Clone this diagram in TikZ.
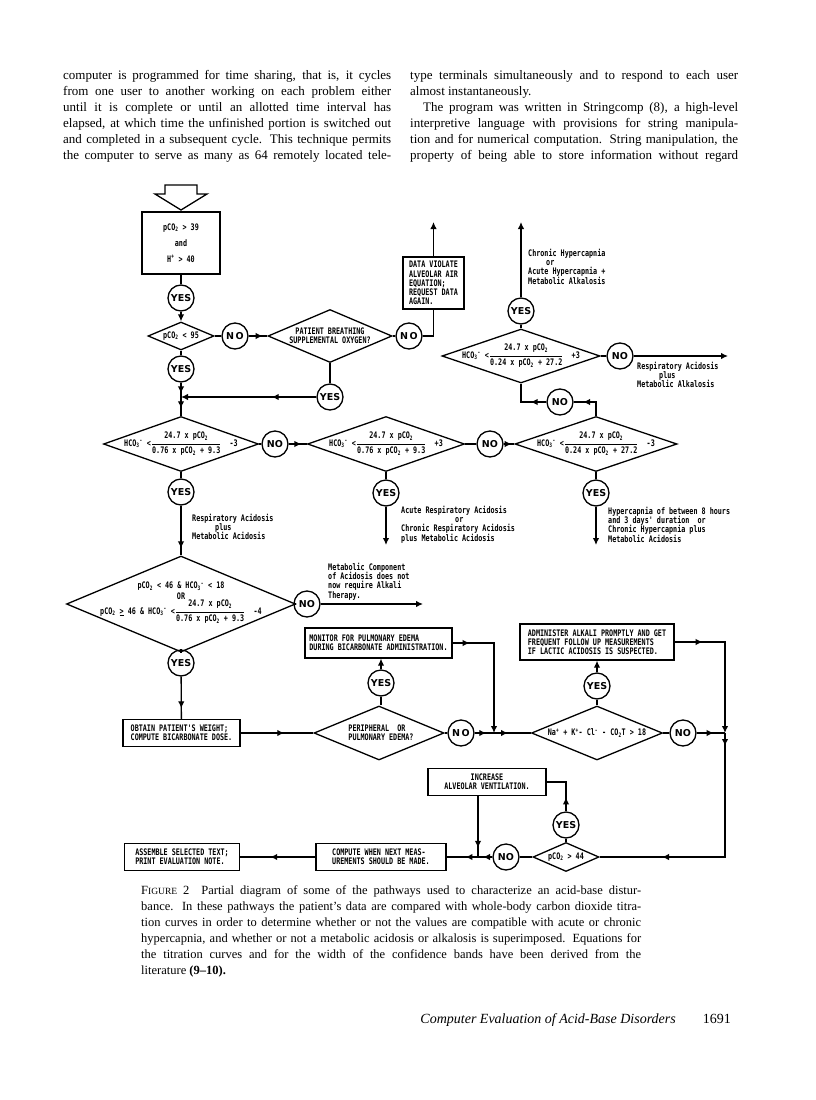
\documentclass[tikz,border=0pt]{standalone}
\usepackage{fontspec}
\usepackage{amsmath}
\setmainfont{Liberation Serif}
\newfontfamily\fcf[FakeStretch=0.75]{DejaVu Sans Mono}
\newfontfamily\ynf{DejaVu Sans}
\usetikzlibrary{shapes.geometric,arrows.meta,decorations.markings}
\newcommand\fcs{\fcf\bfseries\fontsize{9}{9.2}\selectfont}
\newcommand\yn{\ynf\bfseries\fontsize{9.5}{9.5}\selectfont}
\newcommand\hco{HCO\textsubscript{3}\textsuperscript{-}}
\newcommand\pco{pCO\textsubscript{2}}
\newcommand\fr[2]{$\genfrac{}{}{0.9pt}{0}{\mbox{#1}}{\mbox{#2}}$}
\newcommand\bodyfont{\fontsize{13}{16}\selectfont}
\newcommand\capfont{\fontsize{12.5}{16}\selectfont}
\newcommand\jl[2]{\makebox[#1][s]{#2}}
\begin{document}
\begin{tikzpicture}[x=1pt,y=-1pt,
  ln/.style={line width=1.3pt},
  bx/.style={draw, rectangle, line width=1.3pt, inner sep=0pt, font=\fcs},
  cr/.style={draw, circle, line width=1.3pt, minimum size=26pt, inner sep=0pt, font=\yn},
  dm/.style={draw, diamond, line width=1.3pt, inner sep=0pt},
  dt/.style={font=\fcs, inner sep=0pt},
  lbl/.style={font=\fcs, align=left, inner sep=0pt, anchor=north west},
  arr/.style={-{Latex[length=7pt,width=6.5pt]}},
  ma/.style={postaction={decorate, decoration={markings, mark=at position #1 with {\arrow{Latex[length=7pt,width=6.5pt]}}}}},
  bt/.style={anchor=base west, inner sep=0pt, font=\bodyfont},
  ct/.style={anchor=base west, inner sep=0pt, font=\capfont}
]
\fill[white] (0,0) rectangle (816,1100);
\useasboundingbox (0,0) rectangle (816,1100);

% ---------- body text ----------
\node[bt] (t1) at (63,79) {\jl{328pt}{computer is programmed for time sharing, that is, it cycles}};
\node[bt] (t2) at (63,95) {\jl{328pt}{from one user to another working on each problem either}};
\node[bt] (t3) at (63,111) {\jl{328pt}{until it is complete or until an allotted time interval has}};
\node[bt] (t4) at (63,127) {\jl{328pt}{elapsed, at which time the unfinished portion is switched out}};
\node[bt] (t5) at (63,143) {\jl{328pt}{and completed in a subsequent cycle. This technique permits}};
\node[bt] (t6) at (63,159) {\jl{328pt}{the computer to serve as many as 64 remotely located tele-}};
\node[bt] (r1) at (410,79) {\jl{328pt}{type terminals simultaneously and to respond to each user}};
\node[bt] (r2) at (410,95) {almost instantaneously.};
\node[bt] (r3) at (410,111) {\jl{328pt}{\hspace*{13pt}The program was written in Stringcomp (8), a high-level}};
\node[bt] (r4) at (410,127) {\jl{328pt}{interpretive language with provisions for string manipula-}};
\node[bt] (r5) at (410,143) {\jl{328pt}{tion and for numerical computation. String manipulation, the}};
\node[bt] (r6) at (410,159) {\jl{328pt}{property of being able to store information without regard}};

% ---------- caption ----------
\node[ct] (c1) at (141,894) {\jl{500pt}{F{\fontsize{9.5}{16}\selectfont IGURE} 2\ \ Partial diagram of some of the pathways used to characterize an acid-base distur-}};
\node[ct] (c2) at (141,910) {\jl{500pt}{bance. In these pathways the patient's data are compared with whole-body carbon dioxide titra-}};
\node[ct] (c3) at (141,926) {\jl{500pt}{tion curves in order to determine whether or not the values are compatible with acute or chronic}};
\node[ct] (c4) at (141,942) {\jl{500pt}{hypercapnia, and whether or not a metabolic acidosis or alkalosis is superimposed. Equations for}};
\node[ct] (c5) at (141,958) {\jl{500pt}{the titration curves and for the width of the confidence bands have been derived from the}};
\node[ct] (c6) at (141,974) {literature \textbf{(9--10).}};
\node[anchor=base east, inner sep=0pt, font=\fontsize{14}{16}\selectfont\itshape] (f1) at (676,1023) {Computer Evaluation of Acid-Base Disorders};
\node[anchor=base east, inner sep=0pt, font=\fontsize{14}{16}\selectfont] (f2) at (731,1023) {1691};

% ---------- hollow entry arrow ----------
\draw[ln, line join=miter] (165,185) -- (197,185) -- (197,194) -- (207,194) -- (181,210) -- (155,194) -- (165,194) -- cycle;

% ---------- nodes ----------
\node[bx, minimum width=78pt, minimum height=62pt, align=center] (box1) at (181,243) {\pco\ > 39\\[7pt]and\\[7pt]H\textsuperscript{+} > 40};
\node[cr] (yes1) at (181,298) {YES};
\node[dm, minimum width=66pt, minimum height=28pt] (d2) at (181,336) {};
\node[dt] (d2t) at (d2) {\pco\ < 95};
\node[cr] (no1) at (235,336) {N\,O};
\node[dm, minimum width=124pt, minimum height=53pt] (d3) at (330,336) {};
\node[dt, align=center] (d3t) at (d3) {PATIENT BREATHING\\SUPPLEMENTAL OXYGEN?};
\node[cr] (no2) at (409,336) {N\,O};
\node[bx, minimum width=61pt, minimum height=52pt, align=left] (data) at (433.5,283) {DATA VIOLATE\\ALVEOLAR AIR\\EQUATION;\\REQUEST DATA\\AGAIN.};
\node[cr] (yes3) at (330,397) {YES};
\node[cr] (yes2) at (181,369) {YES};
\coordinate (j1) at (181,397);
\coordinate (up1) at (433.5,222);

\node[dm, minimum width=158pt, minimum height=54pt] (d8) at (521,356) {};
\node[dt] (d8t) at (521,356) {\hco\ <\fr{24.7 x \pco}{0.24 x \pco\ + 27.2}\ \ +3};
\node[cr] (yes8) at (521,311) {YES};
\coordinate (up2) at (521,222);
\node[cr] (no8) at (620,356) {NO};
\coordinate (e8) at (728,356);
\node[cr] (no5) at (560,402) {NO};

\node[dm, minimum width=155pt, minimum height=55pt] (d4) at (181,444) {};
\node[dt] (d4t) at (181,444) {\hco\ <\fr{24.7 x \pco}{0.76 x \pco\ + 9.3}\ \ -3};
\node[cr] (no3) at (275,444) {NO};
\node[dm, minimum width=157pt, minimum height=55pt] (d5) at (386,444) {};
\node[dt] (d5t) at (386,444) {\hco\ <\fr{24.7 x \pco}{0.76 x \pco\ + 9.3}\ \ +3};
\node[cr] (no4) at (490,444) {NO};
\node[dm, minimum width=162pt, minimum height=55pt] (d6) at (596,444) {};
\node[dt] (d6t) at (596,444) {\hco\ <\fr{24.7 x \pco}{0.24 x \pco\ + 27.2}\ \ -3};
\node[cr] (yes4) at (181,492) {YES};
\node[cr] (yes5) at (386,493) {YES};
\node[cr] (yes6) at (596,493) {YES};
\coordinate (e5) at (386,545);
\coordinate (e6) at (596,545);

\node[lbl] (l8a) at (528,249) {Chronic Hypercapnia\\\hspace*{18pt}or\\Acute Hypercapnia +\\Metabolic Alkalosis};
\node[lbl] (l8b) at (637,362) {Respiratory Acidosis\\\hspace*{22pt}plus\\Metabolic Alkalosis};
\node[lbl] (l4) at (192,514) {Respiratory Acidosis\\\hspace*{23pt}plus\\Metabolic Acidosis};
\node[lbl] (l5) at (401,506) {Acute Respiratory Acidosis\\\hspace*{54pt}or\\Chronic Respiratory Acidosis\\plus Metabolic Acidosis};
\node[lbl] (l6) at (608,507) {Hypercapnia of between 8 hours\\and 3 days' duration\ \ or\\Chronic Hypercapnia plus\\Metabolic Acidosis};
\node[lbl] (l7) at (328,563) {Metabolic Component\\of Acidosis does not\\now require Alkali\\Therapy.};

\node[dm, minimum width=229pt, minimum height=96pt] (d7) at (181,604) {};
\node[dt, align=center] (d7t) at (181,603) {\pco\ < 46 \& \hco\ < 18\\[1pt]OR\\\pco\ \underline{>} 46 \& \hco\ <\fr{24.7 x \pco}{0.76 x \pco\ + 9.3}\ \ -4};
\node[cr] (no7) at (307,604) {NO};
\coordinate (e7) at (423,604);
\node[cr] (yes7) at (181,663) {YES};

\node[bx, minimum width=147pt, minimum height=30pt, align=left] (monitor) at (378.5,643) {MONITOR FOR PULMONARY EDEMA\\DURING BICARBONATE ADMINISTRATION.};
\node[bx, minimum width=154pt, minimum height=36pt, align=left] (admin) at (597,642) {ADMINISTER ALKALI PROMPTLY AND GET\\FREQUENT FOLLOW UP MEASUREMENTS\\IF LACTIC ACIDOSIS IS SUSPECTED.};
\node[cr] (yes9) at (381,683) {YES};
\node[cr] (yes10) at (597,686) {YES};

\node[bx, minimum width=117pt, minimum height=27pt, align=left] (obtain) at (181.5,733) {OBTAIN PATIENT'S WEIGHT;\\COMPUTE BICARBONATE DOSE.};
\node[dm, minimum width=130pt, minimum height=54pt] (d9) at (379,733) {};
\node[dt, align=left] (d9t) at (381,733) {PERIPHERAL\ \ OR\\PULMONARY EDEMA?};
\node[cr] (no9) at (461,733) {N\,O};
\coordinate (j2) at (494,733);
\node[dm, minimum width=131pt, minimum height=54pt] (d10) at (597,733) {};
\node[dt] (d10t) at (597,733) {Na\textsuperscript{+} + K\textsuperscript{+}- Cl\textsuperscript{-} - CO\textsubscript{2}T > 18};
\node[cr] (no10) at (683,733) {NO};
\coordinate (j3) at (725,733);

\node[bx, minimum width=118pt, minimum height=27pt, align=center] (increase) at (487,782) {INCREASE\\ALVEOLAR VENTILATION.};
\node[cr] (yes11) at (566,825) {YES};
\node[dm, minimum width=66pt, minimum height=29pt] (d11) at (566,857) {};
\node[dt] (d11t) at (566,857) {\pco\ > 44};
\node[cr] (no11) at (506,857) {NO};
\coordinate (j4) at (478,857);
\node[bx, minimum width=130pt, minimum height=27pt, align=left] (compute) at (381,857) {COMPUTE WHEN NEXT MEAS-\\UREMENTS SHOULD BE MADE.};
\node[bx, minimum width=115pt, minimum height=27pt, align=left] (assemble) at (182,857) {ASSEMBLE SELECTED TEXT;\\PRINT EVALUATION NOTE.};

% ---------- connectors ----------
\draw[ln] (box1) -- (yes1);
\draw[ln,arr] (yes1) -- (d2);
\draw[ln] (d2) -- (no1);
\draw[ln,ma=0.75] (no1) -- (d3);
\draw[ln] (d3) -- (no2);
\draw[ln] (no2) -| (data);
\draw[ln,arr] (data) -- (up1);
\draw[ln] (d3) -- (yes3);
\draw[ln,arr,ma=0.33] (yes3) -- (j1);
\draw[ln] (d2) -- (yes2);
\draw[ln,ma=0.75] (yes2) -- (j1);
\draw[ln,ma=0.6] (j1) -- (d4);

\draw[ln] (d8) -- (yes8);
\draw[ln,arr] (yes8) -- (up2);
\draw[ln] (d8) -- (no8);
\draw[ln,arr] (no8) -- (e8);
\draw[ln,ma=0.74] (d6.north) |- (no5);
\draw[ln,ma=0.36] (no5) -| (d8.south);

\draw[ln] (d4) -- (no3);
\draw[ln,ma=0.7] (no3) -- (d5);
\draw[ln] (d5) -- (no4);
\draw[ln,ma=0.75] (no4) -- (d6);
\draw[ln] (d4) -- (yes4);
\draw[ln,ma=0.86] (yes4) -- (d7);
\draw[ln] (d5) -- (yes5);
\draw[ln,arr] (yes5) -- (e5);
\draw[ln] (d6) -- (yes6);
\draw[ln,arr] (yes6) -- (e6);

\draw[ln] (d7) -- (no7);
\draw[ln,arr] (no7) -- (e7);
\draw[ln] (d7) -- (yes7);
\draw[ln,ma=0.75] (yes7) -- (obtain);

\draw[ln,ma=0.6] (obtain) -- (d9);
\draw[ln] (d9.north -| yes9) -- (yes9);
\draw[ln,arr] (yes9) -- (yes9 |- monitor.south);
\draw[ln] (d9) -- (no9);
\draw[ln,ma=0.6] (no9) -- (j2);
\draw[ln,ma=0.38] (j2) -- (d10);
\draw[ln,arr,ma=17pt] (monitor.east) -| (j2);
\draw[ln] (d10) -- (yes10);
\draw[ln,arr] (yes10) -- (admin);
\draw[ln] (d10) -- (no10);
\draw[ln,ma=0.6] (no10) -- (j3);
\draw[ln,arr,ma=28pt] (admin.east) -| (j3);
\draw[ln,ma=13pt,ma=187pt] (j3) |- (d11);

\draw[ln] (d11) -- (yes11);
\draw[ln,ma=14pt] (yes11) |- (increase);
\draw[ln] (d11) -- (no11);
\draw[ln,ma=0.65] (no11) -- (j4);
\draw[ln,ma=0.85] (increase.south -| j4) -- (j4);
\draw[ln,ma=0.4] (j4) -- (compute);
\draw[ln,ma=0.6] (compute) -- (assemble);
\end{tikzpicture}
\end{document}
